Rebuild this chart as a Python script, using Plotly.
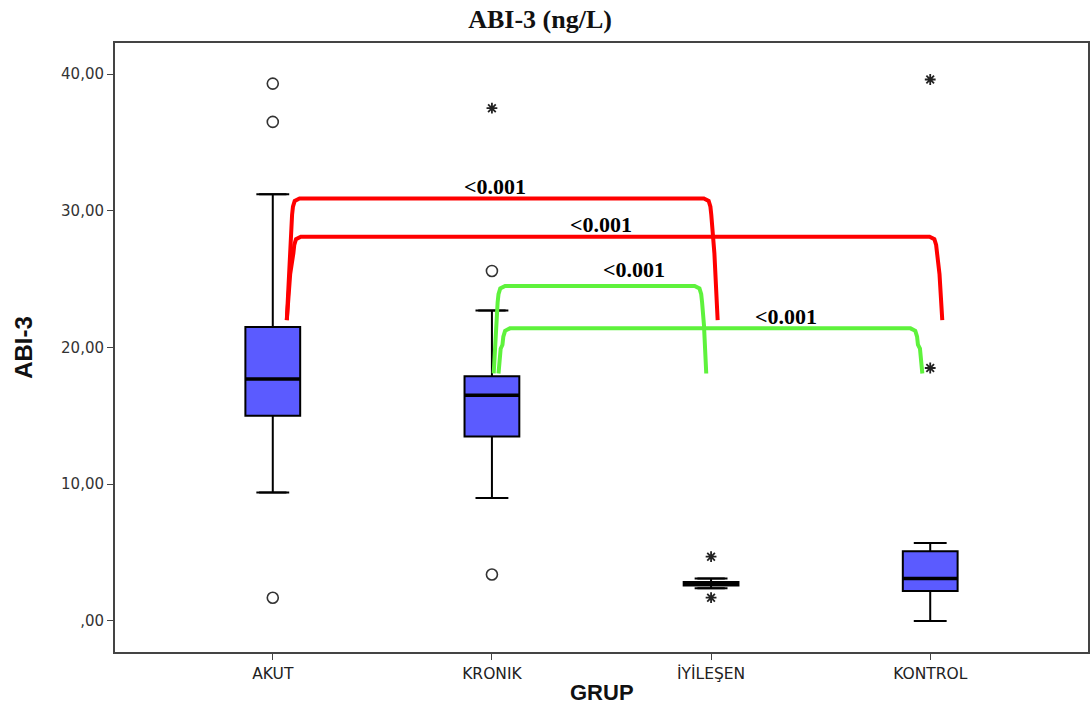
import plotly.graph_objects as go

groups = ["AKUT", "KRONIK", "İYİLEŞEN", "KONTROL"]
q1 = [15.0, 13.5, 2.6, 2.2]
median = [17.7, 16.5, 2.75, 3.1]
q3 = [21.5, 17.9, 2.85, 5.1]
lower_whisker = [9.4, 9.0, 2.4, 0.0]
upper_whisker = [31.2, 22.7, 3.1, 5.7]

# outliers: (group index, value)
circle_x = [0, 0, 0, 1, 1]
circle_y = [39.3, 36.5, 1.7, 25.6, 3.4]
star_x = [1, 2, 2, 3, 3]
star_y = [37.5, 4.7, 1.7, 39.6, 18.5]

# comparison brackets (left leg bottom/top x, right leg top/bottom x, top y, bottom y)
br_x0b = [0.064, 0.064, 1.008, 1.030]
br_x0t = [0.092, 0.098, 1.030, 1.052]
br_x1t = [1.997, 3.027, 1.955, 2.940]
br_x1b = [2.030, 3.055, 1.978, 2.964]
br_top = [30.9, 28.1, 24.5, 21.4]
br_bottom = [22.0, 22.0, 18.1, 18.1]
br_color = ["#FF0000", "#FF0000", "#5EF23C", "#5EF23C"]
br_label = ["<0.001", "<0.001", "<0.001", "<0.001"]
lab_x = [1.012, 1.496, 1.646, 2.344]
lab_y = [31.8, 29.0, 25.7, 22.3]

yticks = [0, 10, 20, 30, 40]
ytick_text = [",00", "10,00", "20,00", "30,00", "40,00"]

fig = go.Figure()

for i, g in enumerate(groups):
    fig.add_trace(go.Box(
        x=[i], q1=[q1[i]], median=[median[i]], q3=[q3[i]],
        lowerfence=[lower_whisker[i]], upperfence=[upper_whisker[i]],
        width=0.25, boxpoints=False, fillcolor="#5B5BFF",
        line=dict(color="black", width=2), showlegend=False, hoverinfo="skip"))
    fig.add_trace(go.Scatter(x=[i - 0.125, i + 0.125], y=[median[i], median[i]], mode="lines",
                             line=dict(color="black", width=3.5), showlegend=False, hoverinfo="skip"))
    for w in (lower_whisker[i], upper_whisker[i]):
        fig.add_trace(go.Scatter(x=[i - 0.075, i + 0.075], y=[w, w], mode="lines",
                                 line=dict(color="black", width=2), showlegend=False, hoverinfo="skip"))

fig.add_trace(go.Scatter(x=circle_x, y=circle_y, mode="markers",
                         marker=dict(symbol="circle-open", size=11, color="#333333", line=dict(width=1.6)),
                         showlegend=False))
fig.add_trace(go.Scatter(x=star_x, y=star_y, mode="markers",
                         marker=dict(symbol="asterisk-open", size=9, color="#222222", line=dict(width=1.8, color="#222222")),
                         showlegend=False))

for k in range(len(br_x0b)):
    yt, yb = br_top[k], br_bottom[k]
    xl_b, xl_t, xr_t, xr_b = br_x0b[k], br_x0t[k], br_x1t[k], br_x1b[k]
    xs = [xl_b, xl_b + 0.45 * (xl_t - xl_b), xl_t - 0.004, xl_t, xl_t + 0.008, xl_t + 0.03,
          xr_t - 0.03, xr_t - 0.008, xr_t, xr_t + 0.004, xr_b - 0.45 * (xr_b - xr_t), xr_b]
    ys = [yb, yb + 0.55 * (yt - yb), yt - 1.2, yt - 0.6, yt - 0.18, yt,
          yt, yt - 0.18, yt - 0.6, yt - 1.2, yb + 0.55 * (yt - yb), yb]
    fig.add_trace(go.Scatter(x=xs, y=ys, mode="lines",
                             line=dict(color=br_color[k], width=4),
                             showlegend=False, hoverinfo="skip"))
    fig.add_annotation(x=lab_x[k], y=lab_y[k], text="<b>" + br_label[k] + "</b>", showarrow=False,
                       font=dict(family="Liberation Serif, Times New Roman, serif", size=22, color="black"))

# x-axis title
fig.add_annotation(x=0.5, y=-0.0905, xref="paper", yref="paper", xanchor="center", yanchor="bottom",
                   text="<b>GRUP</b>", showarrow=False,
                   font=dict(family="Liberation Sans, Arial, sans-serif", size=22, color="#111"))

fig.update_layout(
    width=1091, height=709,
    margin=dict(l=115, r=3, t=43, b=57, autoexpand=False),
    paper_bgcolor="white", plot_bgcolor="white",
    title=dict(text="<b>ABI-3 (ng/L)</b>", x=0.495, xref="container", xanchor="center",
               y=1 - 19 / 709, yref="container", yanchor="middle",
               font=dict(family="Liberation Serif, Times New Roman, serif", size=26, color="#111")),
    font=dict(family="DejaVu Sans, Liberation Sans, sans-serif", size=14, color="#333"),
)
fig.update_xaxes(range=[-0.72, 3.72], tickvals=[0, 1, 2, 3], ticktext=groups,
                 showline=True, linecolor="#444", linewidth=2, mirror=True, automargin=False,
                 ticks="outside", ticklen=6, tickcolor="#444", showgrid=False, zeroline=False,
                 tickfont=dict(size=15.5, color="#222"))
fig.update_yaxes(range=[-2.27, 42.27], tickvals=yticks, ticktext=ytick_text,
                 showline=True, linecolor="#444", linewidth=2, mirror=True, automargin=False,
                 ticks="outside", ticklen=6, tickcolor="#444", showgrid=False, zeroline=False,
                 tickfont=dict(size=15, color="#333"),
                 title=dict(text="<b>ABI-3</b>", standoff=22,
                            font=dict(family="Liberation Sans, Arial, sans-serif", size=24, color="#111")))

fig.write_html("out.html")
